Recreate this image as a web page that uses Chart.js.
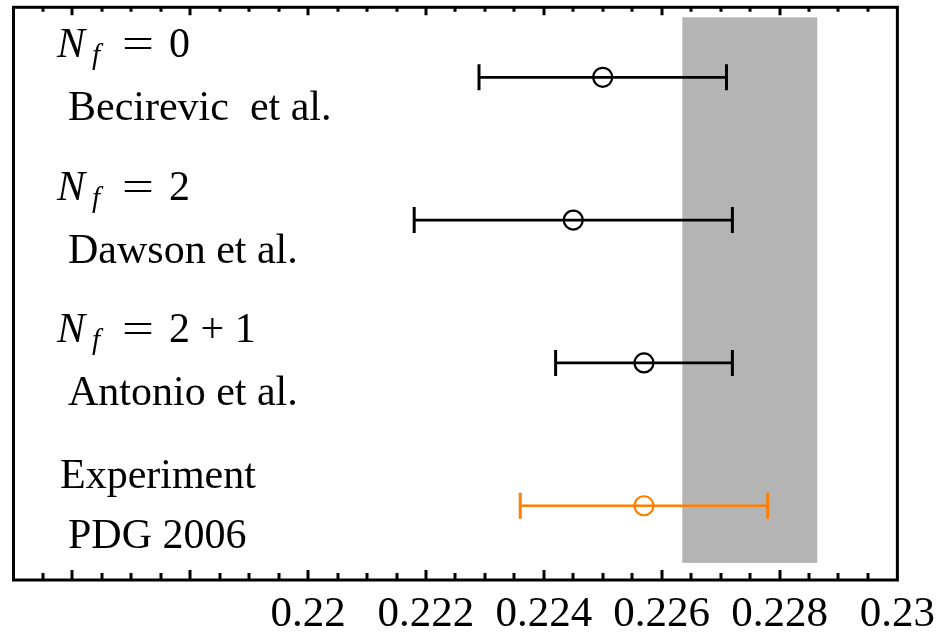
<!DOCTYPE html>
<html>
<head>
<meta charset="utf-8">
<script src="https://cdn.jsdelivr.net/npm/chart.js@4.4.0/dist/chart.umd.min.js"></script>
<style>
  html, body { margin: 0; padding: 0; background: #fff; }
  #wrap { width: 948px; height: 634px; position: relative; }
</style>
</head>
<body>
<div id="wrap"><canvas id="vusChart"></canvas></div>
<script>
// one row per determination, top to bottom
const rowPos = [4, 3, 2, 1];
const flavours = ['0', '2', '2 + 1', null];
const headings = [null, null, null, 'Experiment'];
const refs = ['Becirevic  et al.', 'Dawson et al.', 'Antonio et al.', 'PDG 2006'];
const vusCentral = [0.2250, 0.2245, 0.2257, 0.2257];
const vusLow = [0.2229, 0.2218, 0.2242, 0.2236];
const vusHigh = [0.2271, 0.2272, 0.2272, 0.2278];
const rowColors = ['#000000', '#000000', '#000000', '#ff7f00'];

// shaded unitarity band
const bandRange = [0.22635, 0.22864];
const bandRows = [0.6, 4.42];

const tickLabels = ['0.22', '0.222', '0.224', '0.226', '0.228', '0.23'];

const SERIF = "'Liberation Serif', 'Times New Roman', serif";

const errorSets = rowPos.map((y, i) => ({
    data: [{ x: vusLow[i], y }, { x: vusHigh[i], y }],
    showLine: true,
    borderColor: rowColors[i],
    borderWidth: 2.7,
    pointStyle: 'line',
    pointRotation: 90,
    pointRadius: 13,
    pointHoverRadius: 13,
    pointBorderWidth: 3,
    pointBorderColor: rowColors[i],
}));

const centralSet = {
    data: rowPos.map((y, i) => ({ x: vusCentral[i], y })),
    pointStyle: 'circle',
    pointRadius: 9.5,
    pointHoverRadius: 9.5,
    pointBorderWidth: 2.2,
    pointBackgroundColor: 'rgba(0,0,0,0)',
    pointBorderColor: rowColors,
};

const bandPlugin = {
    id: 'band',
    beforeDatasetsDraw(chart) {
        const { ctx, scales: { x, y } } = chart;
        const x0 = x.getPixelForValue(bandRange[0]);
        const x1 = x.getPixelForValue(bandRange[1]);
        const y0 = y.getPixelForValue(bandRows[1]);
        const y1 = y.getPixelForValue(bandRows[0]);
        ctx.save();
        ctx.fillStyle = '#b4b4b4';
        ctx.fillRect(x0, y0, x1 - x0, y1 - y0);
        ctx.restore();
    },
};

// box around the plot with inward ticks on top and bottom
const framePlugin = {
    id: 'frame',
    afterDatasetsDraw(chart) {
        const { ctx, chartArea: a, scales: { x } } = chart;
        ctx.save();
        ctx.strokeStyle = '#000';
        ctx.lineWidth = 3;
        ctx.strokeRect(a.left, a.top, a.right - a.left, a.bottom - a.top);
        x.ticks.forEach(t => {
            if (t.value <= x.min || t.value >= x.max) return;
            const px = Math.round(x.getPixelForValue(t.value));
            const k = t.value / 0.002;
            const major = Math.abs(k - Math.round(k)) < 1e-6;
            ctx.beginPath();
            ctx.moveTo(px, a.bottom);
            ctx.lineTo(px, a.bottom - (major ? 10 : 7));
            ctx.moveTo(px, a.top);
            ctx.lineTo(px, a.top + (major ? 8 : 4.5));
            ctx.stroke();
        });
        ctx.restore();
    },
};

const textPlugin = {
    id: 'rowText',
    afterDraw(chart) {
        const { ctx, scales: { y } } = chart;
        ctx.save();
        ctx.fillStyle = '#000';
        ctx.textBaseline = 'alphabetic';
        rowPos.forEach((r, i) => {
            const cy = y.getPixelForValue(r);
            const top = cy - 20.5;
            if (flavours[i] !== null) {
                ctx.font = `italic 42px ${SERIF}`;
                ctx.fillText('N', 57, top);
                ctx.font = `italic 29px ${SERIF}`;
                ctx.fillText('f', 92, top + 7);
                // the equals sign is set a little wider, as in the math layout
                ctx.font = `42px ${SERIF}`;
                ctx.save();
                ctx.translate(122, top);
                ctx.scale(1.35, 1);
                ctx.fillText('=', 0, 0);
                ctx.restore();
                ctx.fillText(flavours[i], 169, top);
            } else {
                ctx.font = `42px ${SERIF}`;
                ctx.fillText(headings[i], 60, cy - 17.5);
            }
            ctx.font = `42px ${SERIF}`;
            ctx.fillText(refs[i], 68, cy + 42.5);
        });
        ctx.restore();
    },
};

new Chart(document.getElementById('vusChart'), {
    type: 'scatter',
    data: { datasets: [...errorSets, centralSet] },
    options: {
        responsive: true,
        maintainAspectRatio: false,
        animation: false,
        events: [],
        layout: { autoPadding: false, padding: { left: 13.5, top: 7.3, right: 49.7, bottom: 0 } },
        plugins: { legend: { display: false }, tooltip: { enabled: false } },
        scales: {
            x: {
                type: 'linear',
                min: 0.215,
                max: 0.23,
                grid: { display: false, drawTicks: false },
                border: { display: false },
                ticks: {
                    stepSize: 0.0005,
                    autoSkip: false,
                    maxRotation: 0,
                    minRotation: 0,
                    padding: 13,
                    color: '#000',
                    font: { family: SERIF, size: 43, lineHeight: 1 },
                    callback: v => {
                        const s = String(parseFloat(v.toFixed(4)));
                        return tickLabels.includes(s) ? s : '';
                    },
                },
                afterFit: s => { s.height = 54; },
            },
            y: { display: false, min: 0.48, max: 4.49 },
        },
    },
    plugins: [bandPlugin, framePlugin, textPlugin],
});
</script>
</body>
</html>
